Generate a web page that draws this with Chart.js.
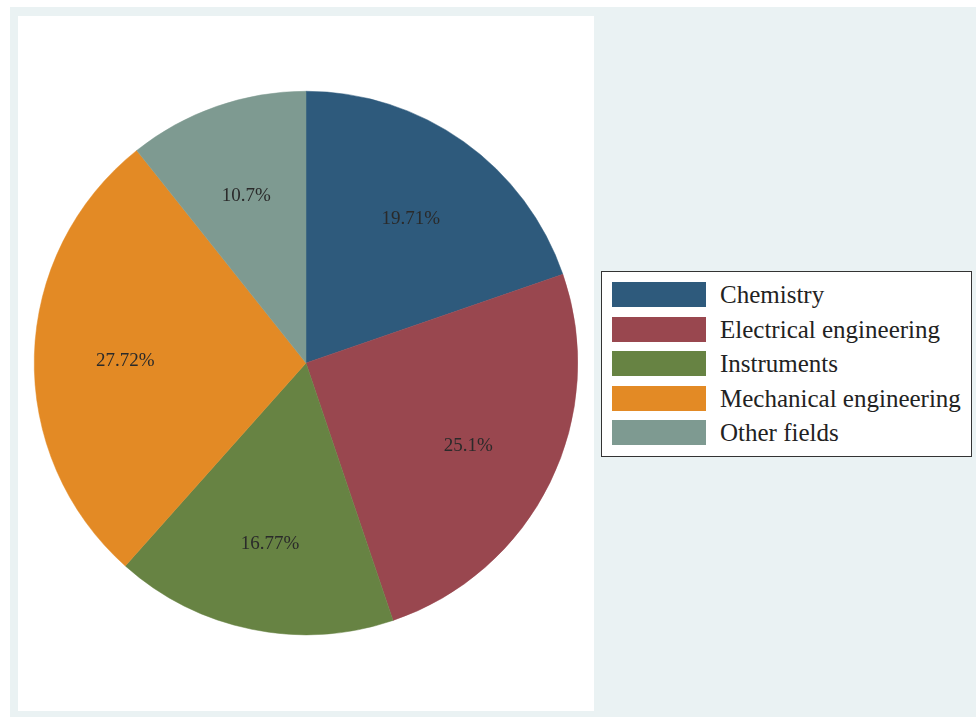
<!DOCTYPE html>
<html>
<head>
<meta charset="utf-8">
<script src="https://cdn.jsdelivr.net/npm/chart.js@4"></script>
<style>
  html, body { margin: 0; padding: 0; background: #ffffff; }
  #graph { position: absolute; left: 10px; top: 7px; width: 966px; height: 710px; background: #eaf2f3; }
  #plot { position: absolute; left: 18px; top: 16px; width: 576px; height: 695px; background: #ffffff; }
  #chart { position: absolute; left: 18px; top: 16px; }
  #legend {
    position: absolute; left: 601px; top: 271px; width: 369px; height: 184px;
    background: #ffffff; border: 1px solid #333333;
    font-family: "Liberation Serif", "Times New Roman", serif; font-size: 25px; color: #222222;
  }
  .item { position: absolute; left: 10px; height: 25px; }
  .sw { position: absolute; left: 0; top: 0; width: 94px; height: 25px; }
  .lbl { position: absolute; left: 108px; top: -2px; white-space: nowrap; line-height: 30px; }
</style>
</head>
<body>
<div id="graph"></div>
<div id="plot"></div>
<canvas id="chart" width="576" height="695"></canvas>
<div id="legend"></div>
<script>
const campi = ['Chemistry', 'Electrical engineering', 'Instruments', 'Mechanical engineering', 'Other fields'];
const quote = [19.71, 25.1, 16.77, 27.72, 10.7];
const colori = ['#2e5a7c', '#99474f', '#678343', '#e38a25', '#7e9a91'];

// etichette percentuali dentro le fette
const etichette = {
  id: 'etichette',
  afterDatasetsDraw(chart) {
    const ctx = chart.ctx;
    const meta = chart.getDatasetMeta(0);
    ctx.save();
    ctx.font = '19px "Liberation Serif", "Times New Roman", serif';
    ctx.fillStyle = '#2a2a2a';
    ctx.textAlign = 'center';
    ctx.textBaseline = 'middle';
    meta.data.forEach((arc, i) => {
      const p = arc.getProps(['x', 'y', 'startAngle', 'endAngle', 'outerRadius']);
      const a = (p.startAngle + p.endAngle) / 2;
      const r = p.outerRadius * 0.665;
      ctx.fillText(quote[i] + '%', p.x + Math.cos(a) * r, p.y + Math.sin(a) * r + 3.5);
    });
    ctx.restore();
  }
};

new Chart(document.getElementById('chart'), {
  type: 'pie',
  data: {
    labels: campi,
    datasets: [{
      data: quote,
      backgroundColor: colori,
      borderColor: colori,
      borderWidth: 0.5
    }]
  },
  options: {
    responsive: false,
    animation: false,
    layout: { padding: { left: 16, right: 16, top: 75, bottom: 76 } },
    plugins: {
      legend: { display: false },
      tooltip: { enabled: false }
    }
  },
  plugins: [etichette]
});

// legenda a destra
document.getElementById('legend').innerHTML = campi.map((c, i) => `
  <div class="item" style="top:${10 + i * 34.5}px">
    <div class="sw" style="background:${colori[i]}"></div>
    <div class="lbl">${c}</div>
  </div>`).join('');
</script>
</body>
</html>
